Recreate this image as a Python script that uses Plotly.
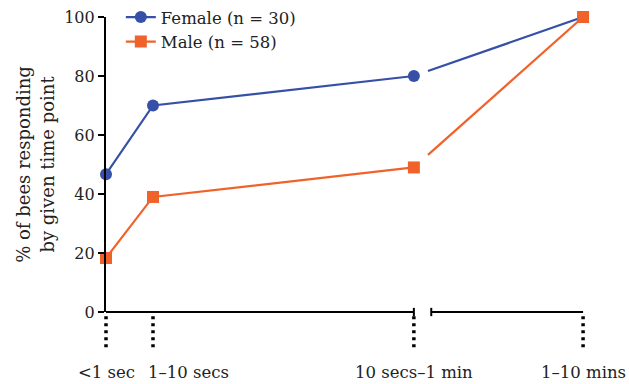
import plotly.graph_objects as go
import numpy as np

categories = ["<1 sec", "1–10 secs", "10 secs–1 min", "1–10 mins"]
x_positions = [0, 1, 6.55, 10.15]   # broken time axis positions (category units)
label_shift = [0, 35, 0, 0]          # horizontal nudge of category labels (px)
female = [46.7, 70.0, 80.0, 100.0]
male = [18.3, 39.0, 49.0, 100.0]
y_ticks = [0, 20, 40, 60, 80, 100]

axis_break_start = 6.55
axis_break_end = 6.92
line_resume = 6.85
X_MAX = 10.51

BLUE = "#3550a6"
ORANGE = "#f0622a"
FONT = "DejaVu Serif"
TXT = "#222"

def to_paper(x):
    return x / X_MAX

fig = go.Figure()

def add_series(name, vals, color, symbol, size):
    fig.add_trace(go.Scatter(
        x=x_positions[:3], y=vals[:3], mode="lines+markers", name=name,
        line=dict(color=color, width=2.2),
        marker=dict(symbol=symbol, size=size, color=color),
        cliponaxis=False, legendgroup=name, showlegend=True))
    y_resume = float(np.interp(line_resume, x_positions[2:], vals[2:]))
    fig.add_trace(go.Scatter(
        x=[line_resume, x_positions[3]], y=[y_resume, vals[3]], mode="lines",
        line=dict(color=color, width=2.2), cliponaxis=False,
        legendgroup=name, showlegend=False, hoverinfo="skip"))
    fig.add_trace(go.Scatter(
        x=[x_positions[3]], y=[vals[3]], mode="markers",
        marker=dict(symbol=symbol, size=size, color=color), cliponaxis=False,
        legendgroup=name, showlegend=False))

add_series("Female (n = 30)", female, BLUE, "circle", 12)
add_series("Male (n = 58)", male, ORANGE, "square", 12)

shapes = []
shapes.append(dict(type="line", xref="paper", yref="paper", x0=0, x1=to_paper(axis_break_start), y0=0, y1=0,
                   line=dict(color="black", width=2.2)))
shapes.append(dict(type="line", xref="paper", yref="paper", x0=to_paper(axis_break_end),
                   x1=to_paper(x_positions[3]), y0=0, y1=0,
                   line=dict(color="black", width=2.2)))
for xb in (axis_break_start, axis_break_end):
    shapes.append(dict(type="line", xref="paper", yref="paper", x0=to_paper(xb), x1=to_paper(xb),
                       y0=0.014, y1=-0.014, line=dict(color="black", width=2)))
for xp in x_positions:
    shapes.append(dict(type="line", xref="paper", yref="paper", x0=to_paper(xp), x1=to_paper(xp),
                       y0=-0.014, y1=-0.13,
                       line=dict(color="black", width=3.5, dash="3px,4px")))

annotations = []
for xp, lab, sh in zip(x_positions, categories, label_shift):
    annotations.append(dict(x=to_paper(xp), y=-0.204, xref="paper", yref="paper",
                            text=lab, showarrow=False, xanchor="center", yanchor="middle",
                            xshift=sh, font=dict(family=FONT, size=16.5, color=TXT)))

fig.update_layout(
    width=629, height=384,
    margin=dict(l=106, r=29, t=17, b=72, autoexpand=False),
    paper_bgcolor="white", plot_bgcolor="white",
    font=dict(family=FONT, size=16, color=TXT),
    shapes=shapes, annotations=annotations,
    showlegend=True,
    legend=dict(x=0.03, y=1.058, xanchor="left", yanchor="top",
                font=dict(family=FONT, size=16.5, color=TXT),
                bgcolor="rgba(0,0,0,0)", tracegroupgap=0, itemwidth=30),
    xaxis=dict(range=[0, X_MAX], showgrid=False, zeroline=False, showline=False,
               showticklabels=False, ticks="", automargin=False),
    yaxis=dict(range=[0, 100], showgrid=False, zeroline=False, showline=True,
               linecolor="black", linewidth=2.2, automargin=False,
               tickvals=y_ticks, ticks="outside", ticklen=6, tickwidth=2, tickcolor="black",
               tickfont=dict(family=FONT, size=16, color=TXT),
               title=dict(text="% of bees responding<br>by given time point",
                          font=dict(family=FONT, size=18, color=TXT), standoff=5)),
)

fig.write_html("out.html", config={"displayModeBar": False})
with open("out.html", encoding="utf-8") as f:
    html = f.read()
html = html.replace("<body>", '<body style="margin:0;padding:0">', 1)
with open("out.html", "w", encoding="utf-8") as f:
    f.write(html)
